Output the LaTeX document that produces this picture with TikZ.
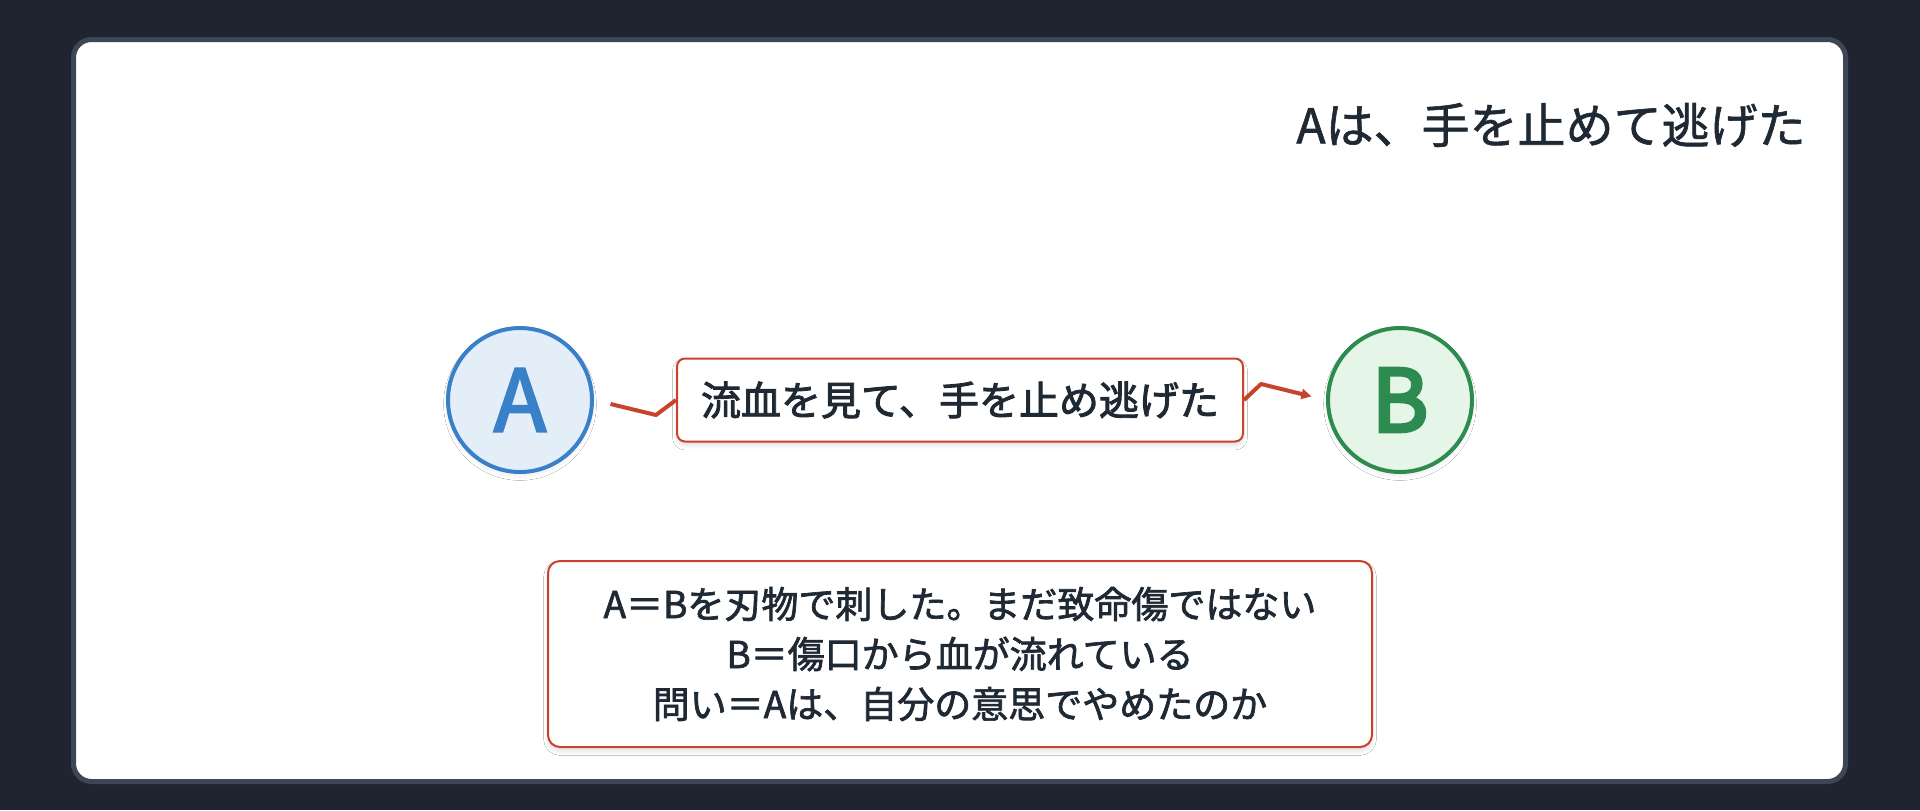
\documentclass[tikz,border=0pt]{standalone}
\usepackage{fontspec}
\setmainfont{Noto Sans CJK JP}
\usepackage{xcolor}
\usetikzlibrary{arrows.meta,shadows.blur}

\definecolor{bgdark}{HTML}{1E2530}
\definecolor{cardline}{HTML}{3C4656}
\definecolor{ink}{HTML}{1F2933}
\definecolor{cut}{HTML}{C9432C}
\definecolor{blueline}{HTML}{3A80C9}
\definecolor{bluefill}{HTML}{E4EEF9}
\definecolor{greenline}{HTML}{2E8B50}
\definecolor{greenfill}{HTML}{E5F5E8}

% heavier text by stroking the glyph outlines
\newcommand{\heavy}[2]{\special{pdf:code 2 Tr #1 w}#2\special{pdf:code 0 Tr}}

\begin{document}
\begin{tikzpicture}[x=0.5pt,y=-0.5pt,
  person/.style={circle, line width=2pt, minimum size=72pt, inner sep=0pt,
    font=\fontsize{43pt}{43pt}\selectfont,
    blur shadow={shadow xshift=0pt, shadow yshift=-2pt, shadow opacity=7, shadow blur steps=6}},
  tag/.style={rectangle, rounded corners=4pt, draw=cut, line width=1pt, fill=white,
    text=ink, inner sep=0pt,
    blur shadow={shadow xshift=0pt, shadow yshift=-2pt, shadow opacity=12, shadow blur steps=6}},
  wire/.style={draw=cut, line width=2pt, line join=round}]

% frame %
\fill[bgdark] (0,0) rectangle (1920,810);
\useasboundingbox (0,0) rectangle (1920,810);
\draw[cardline, line width=2.5pt, fill=white, rounded corners=9pt] (73.5,39.5) rectangle (1845.5,781.5);

% nodes %
\node[anchor=east, inner sep=0pt, text=ink, font=\fontsize{24pt}{28pt}\selectfont] (title) at (1806,125) {\heavy{0.3}{Aは、手を止めて逃げた}};
\node[person, draw=blueline, fill=bluefill, text=blueline] (a) at (520,400) {\heavy{1.2}{A}};
\node[person, draw=greenline, fill=greenfill, text=greenline] (b) at (1400,400) {\heavy{1.8}{B}};
\coordinate (k1) at (656,415);
\coordinate (k2) at (1261,384);
\node[tag, minimum width=283pt, minimum height=41.5pt, font=\fontsize{20pt}{24pt}\selectfont] (lbl) at (960,400) {\heavy{0.45}{流血を見て、手を止め逃げた}};
\node[tag, rounded corners=6pt, minimum width=412pt, minimum height=93pt, align=center,
  font=\fontsize{18.5pt}{25pt}\selectfont] (facts) at (960,654)
  {\heavy{0.35}{A＝Bを刃物で刺した。まだ致命傷ではない}\\\heavy{0.35}{B＝傷口から血が流れている}\\\heavy{0.35}{問い＝Aは、自分の意思でやめたのか}};

% edges %
\draw[wire, shorten <=8.5pt] (a.east) -- (k1) -- (lbl.west);
\draw[wire, -{Triangle[length=5pt,width=5pt]}, shorten >=7.5pt] (lbl.east) -- (k2) -- (b.west);
\end{tikzpicture}
\end{document}
